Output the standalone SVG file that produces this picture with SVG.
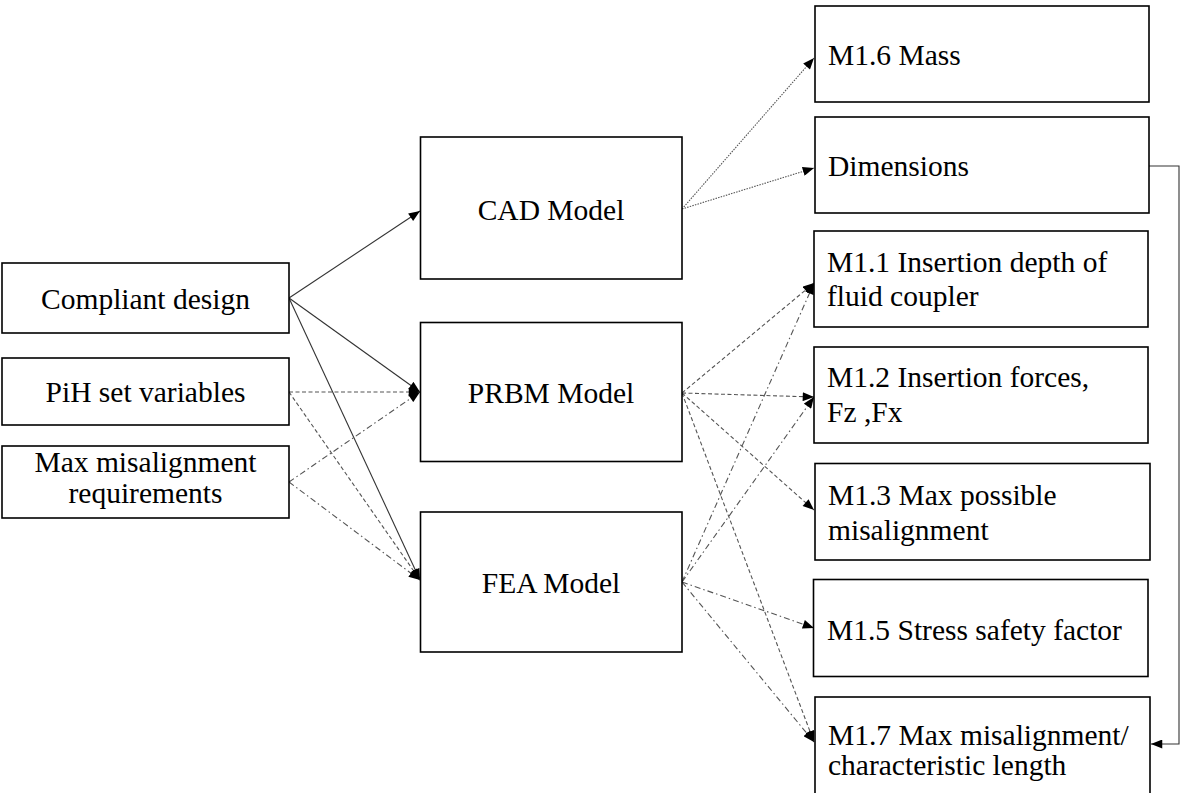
<svg xmlns="http://www.w3.org/2000/svg" width="1181" height="793" viewBox="0 0 1181 793">
  <defs>
    <marker id="arrow" viewBox="0 0 10 8" refX="10" refY="4" markerWidth="12" markerHeight="9" markerUnits="userSpaceOnUse" orient="auto">
      <path d="M0,0 L10,4 L0,8 Z" fill="#000"/>
    </marker>
    <style>
      .box { fill: #fff; stroke: #000; stroke-width: 1.6; }
      .mid { text-anchor: middle; }
      .link { fill: none; stroke: #444; stroke-width: 1.1; marker-end: url(#arrow); }
      .solid { stroke: #333; }
      .dotted { stroke-dasharray: 1.5 1.2; stroke: #555; }
      .dashed { stroke-dasharray: 4 2.5; stroke: #555; }
      .dashdot { stroke-dasharray: 6 3 1.5 3; stroke: #555; }
    </style>
  </defs>

  <rect width="1181" height="793" fill="#fff"/>

  <!-- connectors -->
  <g id="connectors">
    <!-- inputs to models -->
    <line class="link solid" x1="289" y1="298" x2="420" y2="211"/>
    <line class="link solid" x1="289" y1="298" x2="420" y2="392"/>
    <line class="link solid" x1="289" y1="298" x2="420" y2="580"/>
    <line class="link dashed" x1="289" y1="392" x2="420" y2="392"/>
    <line class="link dashed" x1="289" y1="392" x2="420" y2="580"/>
    <line class="link dashdot" x1="289" y1="482" x2="420" y2="392"/>
    <line class="link dashdot" x1="289" y1="482" x2="420" y2="580"/>

    <!-- CAD model outputs -->
    <line class="link dotted" x1="682" y1="209" x2="814" y2="58"/>
    <line class="link dotted" x1="682" y1="209" x2="814" y2="168"/>

    <!-- PRBM model outputs -->
    <line class="link dashed" x1="682" y1="393" x2="814" y2="283"/>
    <line class="link dashed" x1="682" y1="393" x2="814" y2="397"/>
    <line class="link dashed" x1="682" y1="393" x2="814" y2="510"/>
    <line class="link dashed" x1="682" y1="393" x2="814" y2="742"/>

    <!-- FEA model outputs -->
    <line class="link dashdot" x1="682" y1="582" x2="814" y2="283"/>
    <line class="link dashdot" x1="682" y1="582" x2="814" y2="397"/>
    <line class="link dashdot" x1="682" y1="582" x2="814" y2="628"/>
    <line class="link dashdot" x1="682" y1="582" x2="814" y2="742"/>

    <!-- dimensions feed the characteristic length -->
    <polyline class="link solid" points="1149,166 1179,166 1179,744 1151,744"/>
  </g>

  <g font-family="'Liberation Serif', 'DejaVu Serif', serif" font-size="29.5" fill="#000">
    <!-- inputs -->
    <g id="compliant-design">
      <rect class="box" x="2" y="263" width="287" height="70"/>
      <text class="mid" x="145.5" y="309">Compliant design</text>
    </g>
    <g id="pih-set-variables">
      <rect class="box" x="2" y="358" width="287" height="67"/>
      <text class="mid" x="145.5" y="402">PiH set variables</text>
    </g>
    <g id="max-misalignment-requirements">
      <rect class="box" x="2" y="446" width="287" height="72"/>
      <text class="mid" x="145.5" y="472">Max misalignment</text>
      <text class="mid" x="145.5" y="503">requirements</text>
    </g>

    <!-- models -->
    <g id="cad-model">
      <rect class="box" x="420.5" y="137" width="261.5" height="142"/>
      <text class="mid" x="551" y="220">CAD Model</text>
    </g>
    <g id="prbm-model">
      <rect class="box" x="420.5" y="322.5" width="261.5" height="139"/>
      <text class="mid" x="551" y="403">PRBM Model</text>
    </g>
    <g id="fea-model">
      <rect class="box" x="420.5" y="512" width="261.5" height="140"/>
      <text class="mid" x="551" y="593">FEA Model</text>
    </g>

    <!-- outputs -->
    <g id="m1-6-mass">
      <rect class="box" x="815" y="6" width="334" height="96"/>
      <text x="828" y="65">M1.6 Mass</text>
    </g>
    <g id="dimensions">
      <rect class="box" x="815" y="117" width="334" height="96"/>
      <text x="828" y="176">Dimensions</text>
    </g>
    <g id="m1-1-insertion-depth">
      <rect class="box" x="814" y="231" width="334" height="96"/>
      <text x="827" y="272">M1.1 Insertion depth of</text>
      <text x="827" y="306">fluid coupler</text>
    </g>
    <g id="m1-2-insertion-forces">
      <rect class="box" x="814" y="347" width="334" height="96"/>
      <text x="827" y="387">M1.2 Insertion forces,</text>
      <text x="827" y="422">Fz ,Fx</text>
    </g>
    <g id="m1-3-max-possible-misalignment">
      <rect class="box" x="815" y="463.5" width="335" height="96.5"/>
      <text x="828" y="505">M1.3 Max possible</text>
      <text x="828" y="540">misalignment</text>
    </g>
    <g id="m1-5-stress-safety-factor">
      <rect class="box" x="813.5" y="579.5" width="334.5" height="97"/>
      <text x="827" y="640">M1.5 Stress safety factor</text>
    </g>
    <g id="m1-7-misalignment-ratio">
      <!-- box runs past the lower page edge -->
      <rect class="box" x="815" y="697" width="335" height="110"/>
      <text x="828" y="745">M1.7 Max misalignment/</text>
      <text x="828" y="775">characteristic length</text>
    </g>
  </g>
</svg>
